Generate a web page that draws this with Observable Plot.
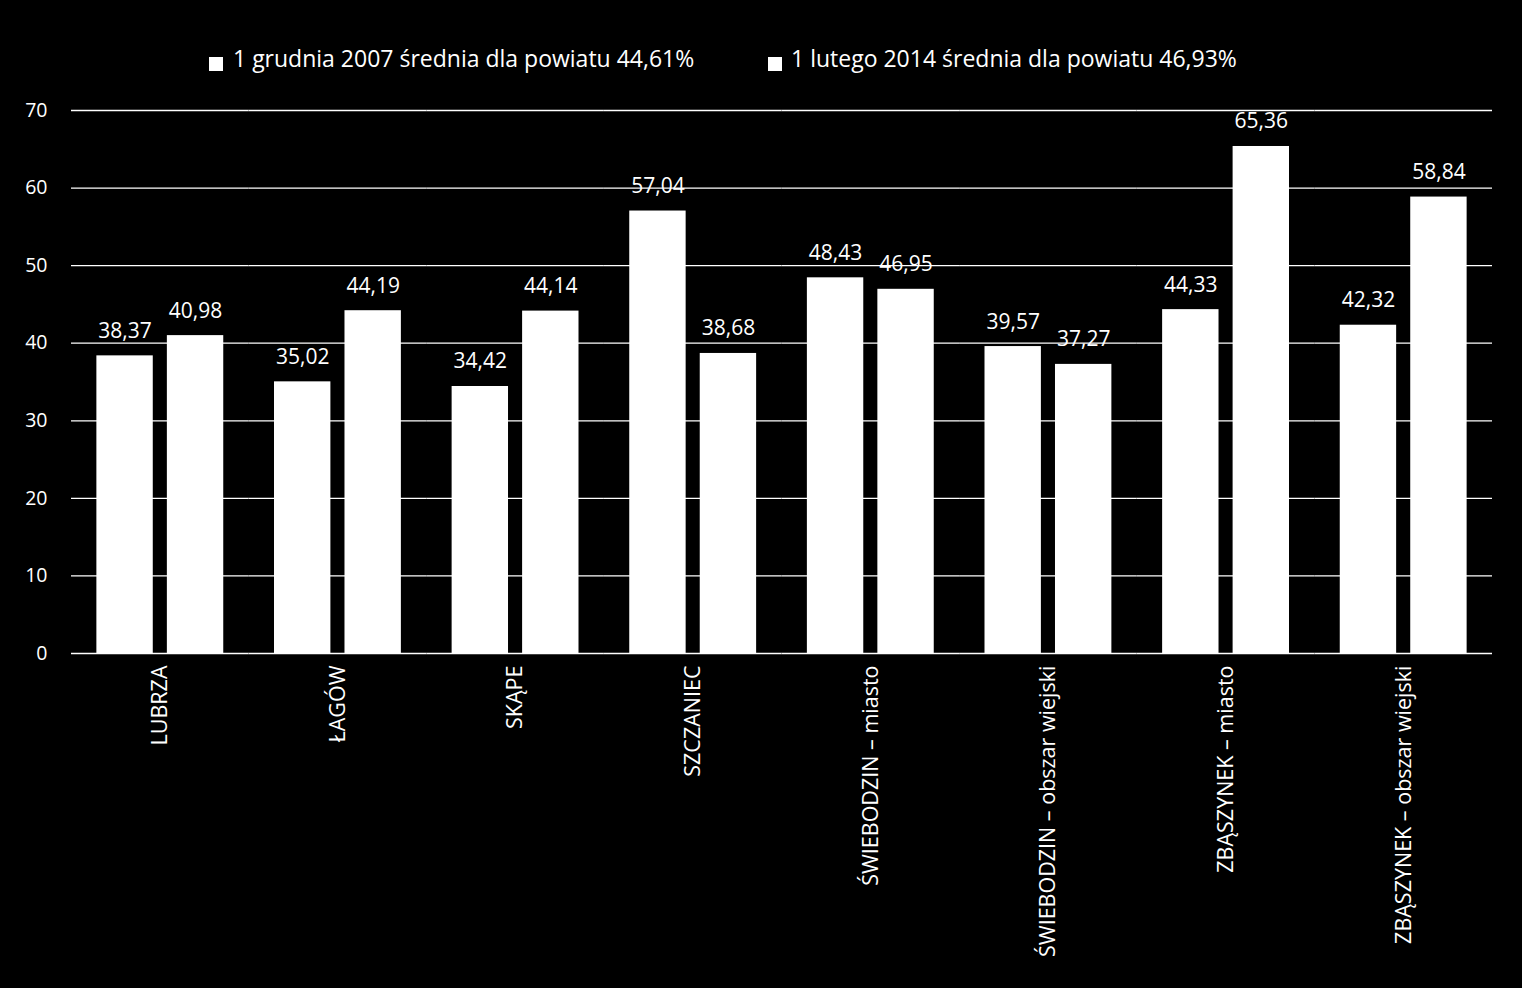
<!DOCTYPE html>
<html><head><meta charset="utf-8">
<script src="https://cdn.jsdelivr.net/npm/d3@7"></script>
<script src="https://cdn.jsdelivr.net/npm/@observablehq/plot@0.6"></script>
<style>
html,body{margin:0;padding:0;background:#000;}
#legend{position:relative;height:90px;width:1522px;font-family:"Open Sans",sans-serif;font-size:23px;line-height:23px;color:#fff}
.sq{position:absolute;top:57px;width:14px;height:14px;background:#fff}
.lt{position:absolute;top:47px;white-space:nowrap}
#chart svg{display:block}
</style></head>
<body>
<div id="legend"></div>
<div id="chart"></div>
<script>
const categories = ["LUBRZA","ŁAGÓW","SKĄPE","SZCZANIEC","ŚWIEBODZIN – miasto","ŚWIEBODZIN – obszar wiejski","ZBĄSZYNEK – miasto","ZBĄSZYNEK – obszar wiejski"];
const seriesNames = ["1 grudnia 2007 średnia dla powiatu 44,61%","1 lutego 2014 średnia dla powiatu 46,93%"];
const values2007 = [38.37,35.02,34.42,57.04,48.43,39.57,44.33,42.32];
const values2014 = [40.98,44.19,44.14,38.68,46.95,37.27,65.36,58.84];
const yTicks = [0,10,20,30,40,50,60,70];

const data = [];
categories.forEach((c,i)=>{
  data.push({cat:c, series:seriesNames[0], value:values2007[i]});
  data.push({cat:c, series:seriesNames[1], value:values2014[i]});
});
const fmt = v => v.toFixed(2).replace(".", ",");

// legend
const legend = document.getElementById("legend");
const legendPos = [[209,233],[768,791]];
seriesNames.forEach((s,i)=>{
  const sq = document.createElement("div"); sq.className="sq"; sq.style.left=legendPos[i][0]+"px"; legend.appendChild(sq);
  const t = document.createElement("div"); t.className="lt"; t.style.left=legendPos[i][1]+"px"; t.textContent=s; legend.appendChild(t);
});

const chart = Plot.plot({
  width:1522, height:898,
  marginTop:20, marginRight:30, marginBottom:335, marginLeft:71,
  style:{background:"black", color:"white", fontFamily:"Open Sans, sans-serif", fontSize:"18px", overflow:"visible"},
  fx:{domain:categories, padding:0, round:false, label:null},
  x:{domain:seriesNames, paddingInner:0.2, paddingOuter:0.36, round:false, axis:null},
  y:{domain:[0,70]},
  marks:[
    Plot.gridY(yTicks, {stroke:"white", strokeOpacity:1, strokeWidth:1.3}),
    Plot.axisY(yTicks, {tickSize:0, tickPadding:24, label:null, tickFormat:d=>String(d), fontSize:19.5}),
    Plot.axisFx({anchor:"bottom", tickRotate:-90, tickSize:0, tickPadding:12, label:null, fontSize:21.5}),
    Plot.barY(data, {fx:"cat", x:"series", y:"value", fill:"white"}),
    Plot.text(data, {fx:"cat", x:"series", y:"value", text:d=>fmt(d.value), lineAnchor:"bottom", dy:-18, fill:"white", fontSize:21})
  ]
});
document.getElementById("chart").appendChild(chart);
</script>
</body></html>
